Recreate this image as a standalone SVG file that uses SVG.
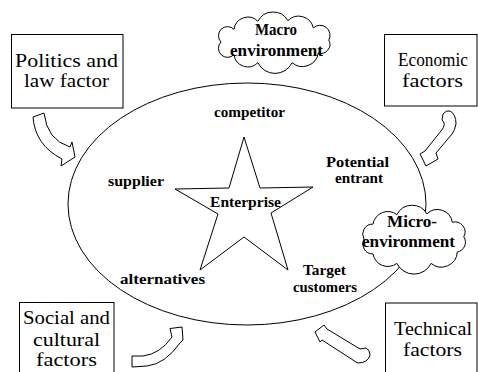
<svg xmlns="http://www.w3.org/2000/svg" width="478" height="372" viewBox="0 0 478 372">
<style>
.box{fill:#fff;stroke:#000;stroke-width:1}
.shape{fill:#fff;stroke:#000;stroke-width:1}
.arrow{fill:#fff;stroke:#000;stroke-width:1;stroke-linejoin:round}
.bt{font-family:"Liberation Serif","DejaVu Serif",serif;font-size:18px;fill:#000}
.lb{font-family:"Liberation Serif","DejaVu Serif",serif;font-size:15px;font-weight:bold;fill:#000}
.ct{font-family:"Liberation Serif","DejaVu Serif",serif;font-size:17px;font-weight:bold;fill:#000}
</style>
<rect width="478" height="372" fill="#fff"/>
<g id="micro-ellipse">
<ellipse class="shape" cx="247" cy="204" rx="179" ry="121" fill="none"/>
</g>
<g id="enterprise">
<polygon class="shape" points="244,137 260,188 313,187 271,213 288,270 244,237 200,270 218,214 175,189 229,188"/>
<text class="lb" x="210" y="207" textLength="71" lengthAdjust="spacingAndGlyphs">Enterprise</text>
</g>
<g id="competitor"><text class="lb" x="214" y="117" textLength="71" lengthAdjust="spacingAndGlyphs">competitor</text></g>
<g id="potential-entrant">
<text class="lb" x="326" y="167" textLength="63" lengthAdjust="spacingAndGlyphs">Potential</text>
<text class="lb" x="335" y="183" textLength="48" lengthAdjust="spacingAndGlyphs">entrant</text>
</g>
<g id="supplier"><text class="lb" x="108" y="186" textLength="56" lengthAdjust="spacingAndGlyphs">supplier</text></g>
<g id="alternatives"><text class="lb" x="120" y="284" textLength="85" lengthAdjust="spacingAndGlyphs">alternatives</text></g>
<g id="target-customers">
<text class="lb" x="303" y="275" textLength="43" lengthAdjust="spacingAndGlyphs">Target</text>
<text class="lb" x="293" y="292" textLength="64" lengthAdjust="spacingAndGlyphs">customers</text>
</g>
<g id="macro-environment">
<path class="shape" d="M221,42 A9,9 0 0 1 234,29.4 A14,14 0 0 1 257.9,21.3 A17,17 0 0 1 287.9,20.7 A15,15 0 0 1 313.3,27.9 A10,10 0 0 1 328.8,40.1 A9,9 0 0 1 318.3,53 A16,16 0 0 1 292.1,62.7 A19,19 0 0 1 257.9,62.7 A14,14 0 0 1 234,54.6 A9,9 0 0 1 221,42 Z"/>
<text class="ct" x="255" y="35" textLength="42" lengthAdjust="spacingAndGlyphs">Macro</text>
<text class="ct" x="230" y="56" textLength="93" lengthAdjust="spacingAndGlyphs">environment</text>
</g>
<g id="micro-environment">
<path class="shape" d="M364,239 A10,10 0 0 1 373,224.1 A15,15 0 0 1 396.9,214.6 A17,17 0 0 1 426.9,213.9 A15,15 0 0 1 452.3,222.3 A10,10 0 0 1 463.8,236.7 A10,10 0 0 1 457.3,252 A16,16 0 0 1 431.1,263.4 A19,19 0 0 1 396.9,263.4 A15,15 0 0 1 373,253.9 A10,10 0 0 1 364,239 Z"/>
<text class="ct" x="387" y="227" textLength="50" lengthAdjust="spacingAndGlyphs">Micro-</text>
<text class="ct" x="362" y="247" textLength="93" lengthAdjust="spacingAndGlyphs">environment</text>
</g>
<g id="politics">
<rect class="box" x="11.5" y="34.5" width="111.5" height="73.5"/>
<text class="bt" x="15" y="66.5" textLength="103" lengthAdjust="spacingAndGlyphs">Politics and</text>
<text class="bt" x="24" y="87" textLength="85" lengthAdjust="spacingAndGlyphs">law factor</text>
</g>
<g id="economic">
<rect class="box" x="384.5" y="34.5" width="92.5" height="71.5"/>
<text class="bt" x="398" y="65.5" textLength="70" lengthAdjust="spacingAndGlyphs">Economic</text>
<text class="bt" x="402" y="87" textLength="61" lengthAdjust="spacingAndGlyphs">factors</text>
</g>
<g id="social">
<rect class="box" x="19.5" y="302.5" width="94.5" height="80"/>
<text class="bt" x="23" y="324" textLength="87" lengthAdjust="spacingAndGlyphs">Social and</text>
<text class="bt" x="33" y="346" textLength="67" lengthAdjust="spacingAndGlyphs">cultural</text>
<text class="bt" x="36" y="366" textLength="61" lengthAdjust="spacingAndGlyphs">factors</text>
</g>
<g id="technical">
<rect class="box" x="385.5" y="303" width="91.5" height="80"/>
<text class="bt" x="394" y="335" textLength="78" lengthAdjust="spacingAndGlyphs">Technical</text>
<text class="bt" x="403" y="356" textLength="59" lengthAdjust="spacingAndGlyphs">factors</text>
</g>
<g id="connectors">
<path class="arrow" d="M33,117 L44,113 Q47,140 70,147 L72,142 L75,157 L61,166 L62,159 Q35,145 33,117 Z"/>
<path class="arrow" d="M443,114 Q446,110 450,111 Q456,114 456,124 Q455,130 452,134 L436,153 L438,159 L426,166 L420,154 L425,151 L441,131 Q447,124 442,120 Z"/>
<path class="arrow" d="M132,356 L143,356 Q160,354 172,337 L170,328.5 L182,327 L183,340 L180,343 Q165,364 147,366 L132,367 Z"/>
<path class="arrow" d="M315,332 L324,325 L327,329 L360,349 L366,348 Q370,350 370,355 Q368,363 358,363 L356,362 L322,340 L320,342 Z"/>
</g>
</svg>
